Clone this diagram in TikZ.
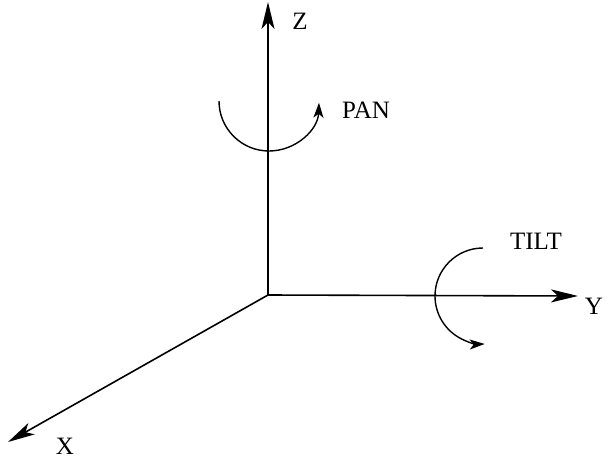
\documentclass[tikz,border=0pt]{standalone}
\usepackage{fontspec}
\setmainfont{Liberation Serif}
\usetikzlibrary{arrows.meta}
\begin{document}
\begin{tikzpicture}[x=1pt,y=-1pt,
  axis/.style={line width=1.6pt,-{Stealth[length=27pt,width=13pt,inset=7pt]}},
  rot/.style={line width=1.4pt,-{Stealth[length=15pt,width=10pt,inset=4pt]}},
  lbl/.style={inner sep=0pt,font=\fontsize{25}{30}\selectfont}]
\useasboundingbox (0,0) rectangle (607,463);
\coordinate (o) at (268,295);
\coordinate (zt) at (268,2);
\coordinate (yt) at (578,296);
\coordinate (xt) at (8,442);
\draw[axis] (o) -- (zt);
\draw[axis] (o) -- (yt);
\draw[axis] (o) -- (xt);
\coordinate (pans) at (219,101);
\coordinate (tilts) at (483,248);
\draw[rot] (pans) arc[start angle=180,end angle=2,radius=50];
\draw[rot] (tilts) arc[start angle=270,end angle=88,radius=48];
\node[lbl] (zl) at (300,21.5) {Z};
\node[lbl] (panl) at (366,110) {PAN};
\node[lbl] (tiltl) at (536,241) {TILT};
\node[lbl] (yl) at (594,306) {Y};
\node[lbl] (xl) at (65,446) {X};
\end{tikzpicture}
\end{document}
